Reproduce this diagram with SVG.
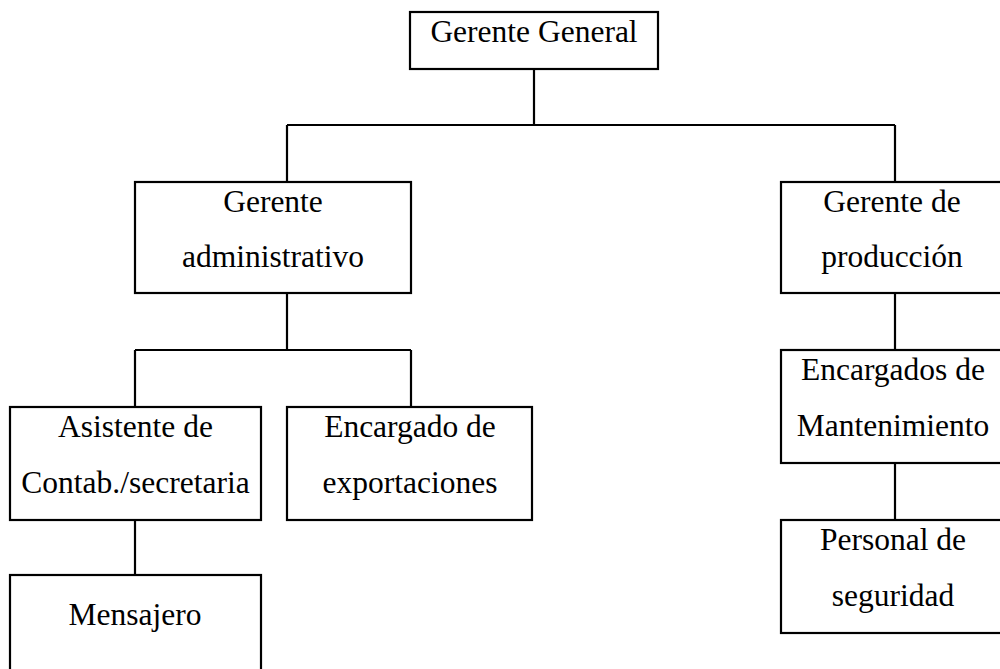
<svg xmlns="http://www.w3.org/2000/svg" width="1000" height="669" viewBox="0 0 1000 669">
<style>
.box{fill:#fff;stroke:#000;stroke-width:2.2}
.conn{fill:none;stroke:#000;stroke-width:2.2}
text{font-family:"Liberation Serif","Times New Roman",serif;font-size:31.5px;fill:#000;text-anchor:middle}
</style>
<rect width="1000" height="669" fill="#fff"/>
<g id="connectors" class="conn">
<path d="M534,69 V125 M287,125 H895 M287,125 V182 M895,125 V182"/>
<path d="M287,293 V350 M135,350 H411 M135,350 V407 M411,350 V407"/>
<path d="M135,520 V575"/>
<path d="M895,293 V350 M895,463 V520"/>
</g>
<g id="gerente-general">
<rect class="box" x="410" y="12" width="248" height="57"/>
<text x="534" y="42">Gerente General</text>
</g>
<g id="gerente-administrativo">
<rect class="box" x="135" y="182" width="276" height="111"/>
<text x="273" y="212">Gerente</text>
<text x="273" y="267">administrativo</text>
</g>
<g id="gerente-produccion">
<rect class="box" x="781" y="182" width="226" height="111"/>
<text x="892" y="212">Gerente de</text>
<text x="892" y="267">producción</text>
</g>
<g id="asistente">
<rect class="box" x="10" y="407" width="251" height="113"/>
<text x="135.5" y="437">Asistente de</text>
<text x="135.5" y="493">Contab./secretaria</text>
</g>
<g id="encargado-exportaciones">
<rect class="box" x="287" y="407" width="245" height="113"/>
<text x="410" y="437">Encargado de</text>
<text x="410" y="493">exportaciones</text>
</g>
<g id="mensajero">
<rect class="box" x="10" y="575" width="251" height="110"/>
<text x="135" y="625">Mensajero</text>
</g>
<g id="encargados-mantenimiento">
<rect class="box" x="781" y="350" width="226" height="113"/>
<text x="893" y="380">Encargados de</text>
<text x="893" y="436">Mantenimiento</text>
</g>
<g id="personal-seguridad">
<rect class="box" x="781" y="520" width="226" height="113"/>
<text x="893" y="550">Personal de</text>
<text x="893" y="606">seguridad</text>
</g>
</svg>
